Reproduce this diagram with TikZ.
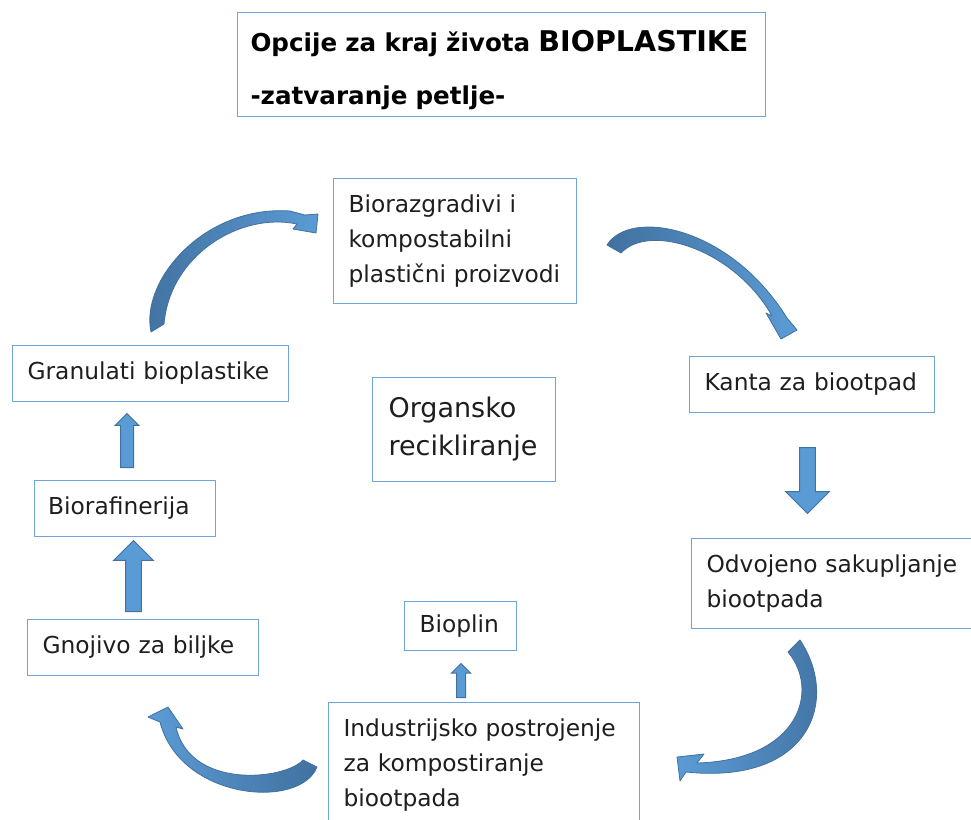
\documentclass[tikz,border=0pt]{standalone}
\usepackage{fontspec}
\setmainfont{DejaVu Sans}
\usetikzlibrary{shapes.arrows}

\definecolor{boxline}{RGB}{112,164,216}
\definecolor{arrowlight}{RGB}{91,155,213}
\definecolor{arrowdark}{RGB}{65,113,160}
\definecolor{textdark}{RGB}{30,30,30}

\tikzset{
  box/.style={draw=boxline, line width=0.8pt, rectangle, anchor=north west, align=left,
    inner xsep=11.25pt, inner ysep=0pt, text=textdark, font=\fontsize{17.5}{26.25}\selectfont},
  blockarrow/.style={single arrow, draw=arrowdark, fill=arrowlight, line width=0.75pt,
    anchor=tail, inner sep=0pt, minimum width=0pt},
  bentarrow/.style={draw=arrowdark, line width=0.6pt, line join=round},
}

\begin{document}
\begin{tikzpicture}[x=0.75pt, y=-0.75pt]
    \useasboundingbox (0,0) rectangle (971,819);

    % Title
    \node[box, text=black, inner xsep=9.75pt, minimum width=396pt, minimum height=78pt, text width=376.5pt,
      font=\bfseries\fontsize{18.45}{39.75}\selectfont] (title) at (237,12)
      {\rule{0pt}{24pt}Opcije za kraj života {\fontsize{21.4}{39.75}\selectfont BIOPLASTIKE}\\-zatvaranje petlje-};

    % Cycle boxes
    \node[box, minimum width=182.25pt, minimum height=93.75pt, text width=159.75pt] (proizvodi) at (333,178)
      {Biorazgradivi i\\kompostabilni\\plastični proizvodi};
    \node[box, minimum width=183.75pt, minimum height=42pt, text width=161.25pt] (kanta) at (689,356)
      {Kanta za biootpad};
    \node[box, minimum width=213.75pt, minimum height=67.5pt, text width=191.25pt] (sakupljanje) at (691,538)
      {Odvojeno sakupljanje\\biootpada};
    \node[box, minimum width=233.25pt, minimum height=93.75pt, text width=210.75pt] (postrojenje) at (328,702)
      {Industrijsko postrojenje\\za kompostiranje\\biootpada};
    \node[box, minimum width=84pt, minimum height=36.75pt, text width=61.5pt] (bioplin) at (404,601)
      {Bioplin};
    \node[box, minimum width=173.25pt, minimum height=42pt, text width=150.75pt] (gnojivo) at (27,619)
      {Gnojivo za biljke};
    \node[box, minimum width=135.75pt, minimum height=42pt, text width=115.25pt, inner xsep=10.25pt] (biorafinerija) at (34,480)
      {Biorafinerija};
    \node[box, minimum width=207pt, minimum height=42pt, text width=184.5pt] (granulati) at (12,345)
      {Granulati bioplastike};

    % Centre label
    \node[box, inner xsep=12pt, minimum width=137.25pt, minimum height=78pt, text width=113.25pt,
      font=\fontsize{20.25}{28.5}\selectfont] (organsko) at (372,377)
      {Organsko\\recikliranje};

    % Straight block arrows
    \node[blockarrow, rotate=-90, minimum height=49.5pt, inner sep=5.6pt, single arrow head extend=10.5pt] (arrsakup) at (807.5,447) {};
    \node[blockarrow, rotate=90, minimum height=53.25pt, inner sep=5.6pt, single arrow head extend=9pt] (arrbioraf) at (133.5,612) {};
    \node[blockarrow, rotate=90, minimum height=40.5pt, inner sep=4.5pt, single arrow head extend=4.1pt] (arrgranul) at (127,468) {};
    \node[blockarrow, rotate=90, minimum height=25.5pt, inner sep=3pt, single arrow head extend=3.75pt] (arrbioplin) at (461,698) {};

    % Curved arrows
    \shadedraw[bentarrow, left color=arrowdark, right color=arrowlight]
      (151,332) .. controls (140,280) and (205,205) .. (290,211) -- (305,215) -- (318,214) -- (316,233)
      -- (293,229) -- (297,224) .. controls (240,212) and (170,255) .. (164,324) -- cycle;
    \shadedraw[bentarrow, left color=arrowdark, right color=arrowlight]
      (607,245) .. controls (630,208) and (730,226) .. (787,318) -- (797,330) -- (781,339)
      -- (766,313) -- (772,316) .. controls (735,250) and (650,222) .. (621,253) -- cycle;
    \shadedraw[bentarrow, left color=arrowlight, right color=arrowdark]
      (800,640) .. controls (840,700) and (810,785) .. (686,772) -- (680,781) -- (677,757)
      -- (704,754) -- (697,763) .. controls (800,760) and (820,690) .. (788,652) -- cycle;
    \shadedraw[bentarrow, left color=arrowlight, right color=arrowdark]
      (317,767) .. controls (300,810) and (180,800) .. (160,722) -- (148,717) -- (168,707)
      -- (183,729) -- (176,727) .. controls (190,790) and (285,780) .. (303,760) -- cycle;
\end{tikzpicture}
\end{document}
